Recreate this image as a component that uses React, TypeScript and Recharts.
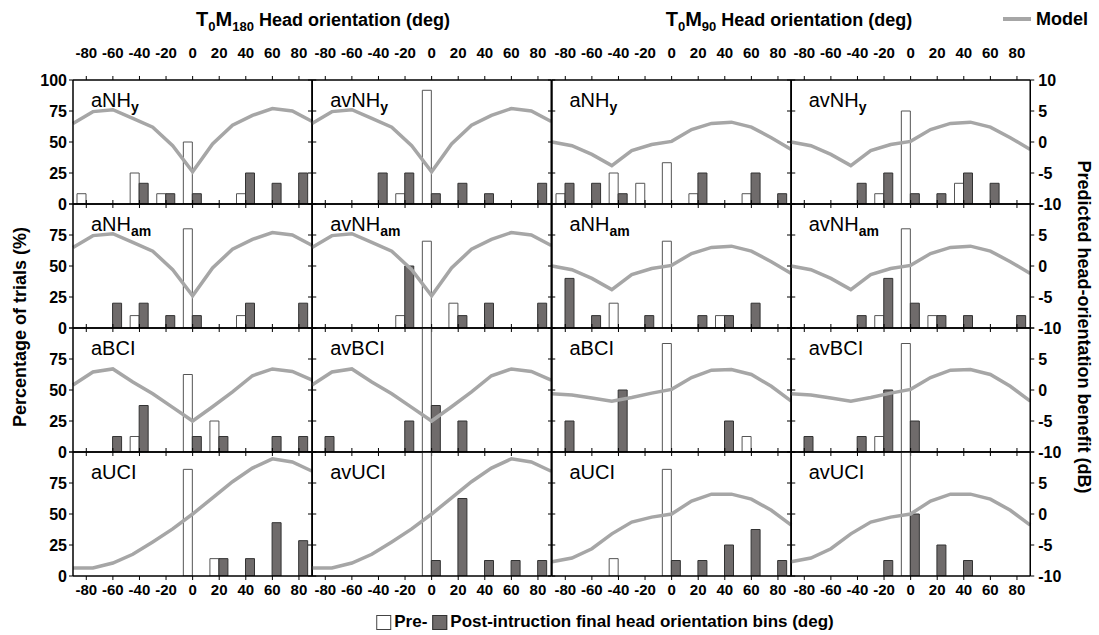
import React from "react";
import { ComposedChart, Bar, Line, XAxis, YAxis } from "recharts";

// head-orientation bins (deg) and model sample angles
const bins = [-80, -60, -40, -20, 0, 20, 40, 60, 80];
const modelDeg = [-90, -75, -60, -45, -30, -15, 0, 15, 30, 45, 60, 75, 90];
const degTicks = [-80, -60, -40, -20, 0, 20, 40, 60, 80];
const pctTicks = [0, 25, 50, 75, 100];
const dbTicks = [-10, -5, 0, 5, 10];

// model: predicted head-orientation benefit (dB)
const modelM180NH = [3.0, 4.9, 5.2, 3.8, 2.4, -0.6, -4.8, -0.3, 2.7, 4.3, 5.4, 5.0, 3.3];
const modelM180BCI = [0.8, 2.9, 3.4, 1.3, -0.6, -2.8, -5.0, -2.7, -0.3, 2.3, 3.4, 3.0, 1.6];
const modelM180UCI = [-8.7, -8.7, -7.9, -6.5, -4.5, -2.4, 0.0, 2.6, 5.2, 7.4, 8.9, 8.4, 6.9];
const modelM90NH = [0.0, -0.6, -2.0, -3.8, -1.4, -0.4, 0.1, 2.0, 3.0, 3.2, 2.4, 0.7, -1.2];
const modelM90BCI = [-0.6, -0.8, -1.3, -1.8, -1.2, -0.5, 0.1, 2.0, 3.2, 3.3, 2.5, 0.6, -1.8];
const modelM90UCI = [-7.7, -7.1, -5.6, -3.2, -1.3, -0.5, 0.0, 2.1, 3.2, 3.2, 2.4, 0.6, -1.8];

// percentage of trials, pre / post instruction
const aNHyM180Pre = [8.3, 0, 25, 8.3, 50, 0, 8.3, 0, 0];
const aNHyM180Post = [0, 0, 16.7, 8.3, 8.3, 0, 25, 16.7, 25];
const avNHyM180Pre = [0, 0, 0, 8.3, 91.7, 0, 0, 0, 0];
const avNHyM180Post = [0, 0, 25, 25, 8.3, 16.7, 8.3, 0, 16.7];
const aNHyM90Pre = [8.3, 0, 25, 16.7, 33.3, 8.3, 0, 8.3, 0];
const aNHyM90Post = [16.7, 16.7, 8.3, 0, 0, 25, 0, 25, 8.3];
const avNHyM90Pre = [0, 0, 0, 8.3, 75, 0, 16.7, 0, 0];
const avNHyM90Post = [0, 0, 16.7, 25, 8.3, 8.3, 25, 16.7, 0];

const aNHamM180Pre = [0, 0, 10, 0, 80, 0, 10, 0, 0];
const aNHamM180Post = [0, 20, 20, 10, 10, 0, 20, 0, 20];
const avNHamM180Pre = [0, 0, 0, 10, 70, 20, 0, 0, 0];
const avNHamM180Post = [0, 0, 0, 50, 0, 10, 20, 0, 20];
const aNHamM90Pre = [0, 0, 20, 0, 70, 0, 10, 0, 0];
const aNHamM90Post = [40, 10, 0, 10, 0, 10, 10, 20, 0];
const avNHamM90Pre = [0, 0, 0, 10, 80, 10, 0, 0, 0];
const avNHamM90Post = [0, 0, 10, 40, 20, 10, 10, 0, 10];

const aBCIM180Pre = [0, 0, 12.5, 0, 62.5, 25, 0, 0, 0];
const aBCIM180Post = [0, 12.5, 37.5, 0, 12.5, 12.5, 0, 12.5, 12.5];
const avBCIM180Pre = [0, 0, 0, 0, 100, 0, 0, 0, 0];
const avBCIM180Post = [12.5, 0, 0, 25, 37.5, 25, 0, 0, 0];
const aBCIM90Pre = [0, 0, 0, 0, 87.5, 0, 0, 12.5, 0];
const aBCIM90Post = [25, 0, 50, 0, 0, 0, 25, 0, 0];
const avBCIM90Pre = [0, 0, 0, 12.5, 87.5, 0, 0, 0, 0];
const avBCIM90Post = [12.5, 0, 12.5, 50, 25, 0, 0, 0, 0];

const aUCIM180Pre = [0, 0, 0, 0, 86, 14, 0, 0, 0];
const aUCIM180Post = [0, 0, 0, 0, 0, 14, 14, 43, 28.5];
const avUCIM180Pre = [0, 0, 0, 0, 100, 0, 0, 0, 0];
const avUCIM180Post = [0, 0, 0, 0, 12.5, 62.5, 12.5, 12.5, 12.5];
const aUCIM90Pre = [0, 0, 14, 0, 86, 0, 0, 0, 0];
const aUCIM90Post = [0, 0, 0, 0, 12.5, 12.5, 25, 37.5, 12.5];
const avUCIM90Pre = [0, 0, 0, 0, 100, 0, 0, 0, 0];
const avUCIM90Post = [0, 0, 0, 12.5, 50, 25, 12.5, 0, 0];

const rows = [
  [
    { name: "aNH", sub: "y", pre: aNHyM180Pre, post: aNHyM180Post, model: modelM180NH },
    { name: "avNH", sub: "y", pre: avNHyM180Pre, post: avNHyM180Post, model: modelM180NH },
    { name: "aNH", sub: "y", pre: aNHyM90Pre, post: aNHyM90Post, model: modelM90NH },
    { name: "avNH", sub: "y", pre: avNHyM90Pre, post: avNHyM90Post, model: modelM90NH },
  ],
  [
    { name: "aNH", sub: "am", pre: aNHamM180Pre, post: aNHamM180Post, model: modelM180NH },
    { name: "avNH", sub: "am", pre: avNHamM180Pre, post: avNHamM180Post, model: modelM180NH },
    { name: "aNH", sub: "am", pre: aNHamM90Pre, post: aNHamM90Post, model: modelM90NH },
    { name: "avNH", sub: "am", pre: avNHamM90Pre, post: avNHamM90Post, model: modelM90NH },
  ],
  [
    { name: "aBCI", sub: "", pre: aBCIM180Pre, post: aBCIM180Post, model: modelM180BCI },
    { name: "avBCI", sub: "", pre: avBCIM180Pre, post: avBCIM180Post, model: modelM180BCI },
    { name: "aBCI", sub: "", pre: aBCIM90Pre, post: aBCIM90Post, model: modelM90BCI },
    { name: "avBCI", sub: "", pre: avBCIM90Pre, post: avBCIM90Post, model: modelM90BCI },
  ],
  [
    { name: "aUCI", sub: "", pre: aUCIM180Pre, post: aUCIM180Post, model: modelM180UCI },
    { name: "avUCI", sub: "", pre: avUCIM180Pre, post: avUCIM180Post, model: modelM180UCI },
    { name: "aUCI", sub: "", pre: aUCIM90Pre, post: aUCIM90Post, model: modelM90UCI },
    { name: "avUCI", sub: "", pre: avUCIM90Pre, post: avUCIM90Post, model: modelM90UCI },
  ],
];

const X0 = 73;
const Y0 = 80;
const PW = 239.25;
const PH = 124;
const FONT = "Arial, 'Liberation Sans', Helvetica, sans-serif";
const axisStyle = { stroke: "#000", strokeWidth: 1.5 };
const tickLineStyle = { stroke: "#000", strokeWidth: 1 };

function Panel({ r, c, p }: { r: number; c: number; p: any }) {
  const leftW = c === 0 ? 44 : 6;
  const rightW = c === 3 ? 44 : 6;
  const topH = r === 0 ? 46 : 6;
  const botH = r === 3 ? 30 : 6;
  const data = bins.map((b, i) => ({ bin: b, pre: p.pre[i], post: p.post[i] }));
  const model = modelDeg.map((d, i) => ({ deg: d, db: p.model[i] }));
  const tickFont = { fontSize: 15, fontWeight: 700, fill: "#000", fontFamily: FONT };
  const yFont = { fontSize: 16, fontWeight: 700, fill: "#000", fontFamily: FONT };
  return (
    <div
      style={{
        position: "absolute",
        left: X0 + c * PW - leftW,
        top: Y0 + r * PH - topH,
      }}
    >
      <ComposedChart
        width={PW + leftW + rightW}
        height={PH + topH + botH}
        data={data}
        barGap={0}
        margin={{ top: 0, right: 0, bottom: 0, left: 0 }}
      >
        <XAxis
          xAxisId="bins"
          dataKey="bin"
          orientation="bottom"
          height={botH}
          interval={0}
          tickSize={4}
          tickMargin={4}
          axisLine={axisStyle}
          tickLine={tickLineStyle}
          tick={tickFont}
          tickFormatter={(v) => (r === 3 ? String(v) : "")}
        />
        <XAxis
          xAxisId="deg"
          dataKey="deg"
          type="number"
          orientation="top"
          domain={[-90, 90]}
          ticks={degTicks}
          height={topH}
          interval={0}
          tickSize={4}
          tickMargin={18}
          axisLine={axisStyle}
          tickLine={tickLineStyle}
          tick={tickFont}
          tickFormatter={(v) => (r === 0 ? String(v) : "")}
        />
        <YAxis
          yAxisId="pct"
          orientation="left"
          domain={[0, 100]}
          ticks={pctTicks}
          width={leftW}
          interval={0}
          allowDataOverflow
          tickSize={4}
          tickMargin={2}
          axisLine={axisStyle}
          tickLine={tickLineStyle}
          tick={yFont}
          tickFormatter={(v) => (c === 0 && !(r > 0 && v === 100) ? String(v) : "")}
        />
        <YAxis
          yAxisId="db"
          orientation="right"
          domain={[-10, 10]}
          ticks={dbTicks}
          width={rightW}
          interval={0}
          allowDataOverflow
          tickSize={4}
          tickMargin={4}
          axisLine={axisStyle}
          tickLine={tickLineStyle}
          tick={yFont}
          tickFormatter={(v) => (c === 3 && !(r > 0 && v === 10) ? String(v) : "")}
        />
        <Bar
          xAxisId="bins"
          yAxisId="pct"
          dataKey="pre"
          barSize={9}
          fill="#ffffff"
          stroke="#555555"
          strokeWidth={1}
          isAnimationActive={false}
        />
        <Bar
          xAxisId="bins"
          yAxisId="pct"
          dataKey="post"
          barSize={9}
          fill="#6f6b6b"
          stroke="#333333"
          strokeWidth={1}
          isAnimationActive={false}
        />
        <Line
          data={model}
          xAxisId="deg"
          yAxisId="db"
          dataKey="db"
          type="linear"
          stroke="#a6a6a6"
          strokeWidth={3.5}
          dot={false}
          activeDot={false}
          isAnimationActive={false}
        />
      </ComposedChart>
      <div
        style={{
          position: "absolute",
          left: leftW + 18,
          top: topH + 10,
          fontFamily: FONT,
          fontSize: 20,
          lineHeight: 1,
          color: "#000",
          whiteSpace: "nowrap",
        }}
      >
        {p.name}
        {p.sub && <span style={{ fontSize: 14, fontWeight: 700, verticalAlign: "sub" }}>{p.sub}</span>}
      </div>
    </div>
  );
}

const headStyle: React.CSSProperties = {
  position: "absolute",
  top: 21,
  transform: "translate(-50%, -50%)",
  fontFamily: FONT,
  fontWeight: 700,
  fontSize: 18,
  whiteSpace: "nowrap",
  color: "#000",
};
const big = { fontSize: 20 };
const sub = { fontSize: 13, verticalAlign: "sub" as const };

export default function App() {
  return (
    <div
      style={{
        position: "absolute",
        left: 0,
        top: 0,
        width: 1099,
        height: 635,
        background: "#fff",
        overflow: "hidden",
        fontFamily: FONT,
      }}
    >
      <style>{`.recharts-surface{overflow:visible}`}</style>
      {rows.map((row, r) => row.map((p, c) => <Panel key={`${r}-${c}`} r={r} c={c} p={p} />))}

      <div style={{ ...headStyle, left: 323 }}>
        <span style={big}>T</span>
        <span style={sub}>0</span>
        <span style={big}>M</span>
        <span style={sub}>180</span> Head orientation (deg)
      </div>
      <div style={{ ...headStyle, left: 789 }}>
        <span style={big}>T</span>
        <span style={sub}>0</span>
        <span style={big}>M</span>
        <span style={sub}>90</span> Head orientation (deg)
      </div>

      <svg style={{ position: "absolute", left: 1001, top: 15 }} width={32} height={8}>
        <line x1={2} y1={4} x2={30} y2={4} stroke="#a6a6a6" strokeWidth={4} />
      </svg>
      <div
        style={{
          position: "absolute",
          left: 1036,
          top: 19,
          transform: "translateY(-50%)",
          fontWeight: 700,
          fontSize: 18,
          color: "#000",
        }}
      >
        Model
      </div>

      <div
        style={{
          position: "absolute",
          left: 20,
          top: 327,
          transform: "translate(-50%, -50%) rotate(-90deg)",
          fontWeight: 700,
          fontSize: 18,
          whiteSpace: "nowrap",
          color: "#000",
        }}
      >
        Percentage of trials (%)
      </div>
      <div
        style={{
          position: "absolute",
          left: 1083,
          top: 327,
          transform: "translate(-50%, -50%) rotate(90deg)",
          fontWeight: 700,
          fontSize: 18,
          whiteSpace: "nowrap",
          color: "#000",
        }}
      >
        Predicted head-orientation benefit (dB)
      </div>

      <div
        style={{
          position: "absolute",
          left: 605,
          top: 622,
          transform: "translate(-50%, -50%)",
          fontWeight: 700,
          fontSize: 17,
          whiteSpace: "nowrap",
          color: "#000",
          display: "flex",
          alignItems: "center",
        }}
      >
        <span
          style={{
            display: "inline-block",
            width: 13,
            height: 13,
            border: "1px solid #444",
            background: "#fff",
            marginRight: 3,
          }}
        />
        Pre-
        <span
          style={{
            display: "inline-block",
            width: 13,
            height: 13,
            border: "1px solid #333",
            background: "#6f6b6b",
            marginLeft: 5,
            marginRight: 3,
          }}
        />
        Post-intruction final head orientation bins (deg)
      </div>
    </div>
  );
}
